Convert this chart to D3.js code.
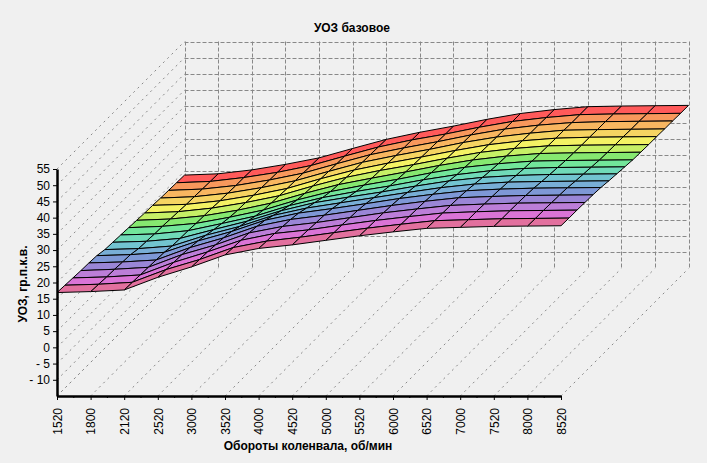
<!DOCTYPE html>
<html><head><meta charset="utf-8">
<script src="https://cdn.jsdelivr.net/npm/d3@7"></script>
<style>
body{margin:0;background:#f0f0f0;}
svg{display:block;font-family:"Liberation Sans",Arial,sans-serif;}
</style>
</head><body>
<svg id="chart" width="707" height="463"></svg>
<script>
// categories (rpm) and value ticks
const rpm = [1520,1800,2120,2520,3000,3520,4000,4520,5000,5520,6000,6520,7000,7520,8000,8520];
const yTicks = [55,50,45,40,35,30,25,20,15,10,5,0,-5,-10];
// surface values, one array per depth row (front row first)
const r00 = [16.9,17.2,17.7,21.6,24.8,28.5,30.5,31.6,33.0,34.4,35.6,36.7,37.0,37.3,37.4,37.5];
const r01 = [16.7,17.0,17.6,21.5,24.6,28.3,30.3,31.5,32.9,34.3,35.5,36.6,36.9,37.2,37.3,37.4];
const r02 = [16.5,16.8,17.4,21.3,24.5,28.1,30.2,31.3,32.8,34.2,35.4,36.5,36.9,37.2,37.3,37.4];
const r03 = [16.3,16.7,17.3,21.2,24.2,27.9,29.9,31.1,32.6,34.1,35.3,36.4,36.8,37.1,37.2,37.3];
const r04 = [16.2,16.5,17.1,20.9,23.9,27.5,29.6,30.9,32.4,33.9,35.2,36.3,36.7,37.0,37.1,37.2];
const r05 = [16.0,16.3,17.0,20.5,23.4,26.9,29.1,30.5,32.0,33.6,34.9,36.0,36.5,36.8,36.9,37.0];
const r06 = [15.4,15.7,16.5,19.8,22.5,25.9,28.2,29.8,31.4,33.0,34.5,35.6,36.2,36.4,36.5,36.6];
const r07 = [15.2,15.5,16.4,19.1,21.7,24.9,27.4,29.1,30.7,32.5,34.1,35.2,35.8,36.1,36.2,36.3];
const r08 = [15.0,15.3,16.3,18.5,20.8,24.0,26.5,28.4,30.1,32.0,33.6,34.8,35.5,35.8,35.9,36.0];
const r09 = [14.8,15.2,16.1,18.0,20.2,23.3,25.9,27.9,29.7,31.7,33.4,34.5,35.3,35.5,35.6,35.7];
const r10 = [14.6,15.0,16.0,17.7,19.9,22.9,25.6,27.6,29.5,31.5,33.2,34.4,35.2,35.4,35.5,35.6];
const r11 = [14.4,14.8,15.9,17.6,19.7,22.7,25.4,27.5,29.3,31.3,33.1,34.3,35.1,35.3,35.4,35.5];
const r12 = [14.3,14.6,15.7,17.4,19.5,22.5,25.2,27.3,29.2,31.2,33.0,34.2,35.0,35.3,35.4,35.5];
const r13 = [14.1,14.5,15.6,17.3,19.4,22.3,25.1,27.2,29.1,31.2,32.9,34.1,35.0,35.2,35.3,35.4];
const r14 = [14.0,14.4,15.5,17.2,19.3,22.2,25.0,27.1,29.0,31.1,32.9,34.1,34.9,35.2,35.3,35.4];
const r15 = [13.9,14.3,15.5,17.1,19.2,22.1,24.9,27.1,28.9,31.0,32.8,34.0,34.9,35.1,35.2,35.3];
const r16 = [13.8,14.2,15.4,17.1,19.1,22.0,24.8,27.0,28.9,31.0,32.8,34.0,34.9,35.1,35.2,35.3];
const bandColors = ["#E2709E","#DA74D6","#BC7ED8","#9A86D6","#7E98D6","#78AED6","#72C4D0","#70DAB8",
                    "#72E69A","#86E870","#C6F066","#F4F264","#F6D462","#F8B660","#F8985C","#FF5A5A"];

const rows = [r00,r01,r02,r03,r04,r05,r06,r07,r08,r09,r10,r11,r12,r13,r14,r15,r16];
const depthIdx = d3.range(rows.length);

const svg = d3.select("#chart");
const x = d3.scalePoint().domain(rpm).range([57, 561]);
const y = d3.scaleLinear().domain([-15, 55]).range([396, 169]);
const z = d3.scaleLinear().domain([0, depthIdx.length - 1]).range([0, 127.5]);
const D = z.range()[1];
const P = (i, j, v) => [x(rpm[i]) + z(j), y(v) - z(j)];

const gridCol = "#888";
const walls = svg.append("g").attr("fill","none").attr("stroke",gridCol).attr("stroke-width",1);
// back wall
walls.selectAll("line.bh").data(yTicks).join("line")
  .attr("x1", x(rpm[0]) + D).attr("x2", x(rpm[rpm.length-1]) + D)
  .attr("y1", d => Math.round(y(d) - D) + 0.5).attr("y2", d => Math.round(y(d) - D) + 0.5)
  .attr("stroke-dasharray","4,2");
walls.selectAll("line.bv").data(rpm).join("line")
  .attr("x1", d => Math.round(x(d) + D) + 0.5).attr("x2", d => Math.round(x(d) + D) + 0.5)
  .attr("y1", y(55) - D).attr("y2", y(-15) - D)
  .attr("stroke-dasharray","4,2");
// left wall diagonals
walls.selectAll("line.ld").data(yTicks.concat([-15])).join("line")
  .attr("x1", x(rpm[0])).attr("y1", d => y(d))
  .attr("x2", x(rpm[0]) + D).attr("y2", d => y(d) - D)
  .attr("stroke-dasharray","2,4");
// floor diagonals
walls.selectAll("line.fd").data(rpm).join("line")
  .attr("x1", d => x(d)).attr("y1", y(-15))
  .attr("x2", d => x(d) + D).attr("y2", y(-15) - D)
  .attr("stroke-dasharray","2,4");

// surface cells, back to front
const cells = [];
for (let j = rows.length - 2; j >= 0; j--) {
  for (let i = rpm.length - 2; i >= 0; i--) {
    cells.push({i, j, pts: [P(i,j,rows[j][i]), P(i+1,j,rows[j][i+1]), P(i+1,j+1,rows[j+1][i+1]), P(i,j+1,rows[j+1][i])]});
  }
}
svg.append("g").selectAll("path").data(cells).join("path")
  .attr("d", c => "M" + c.pts.map(p => p.join(",")).join("L") + "Z")
  .attr("fill", c => bandColors[c.j])
  .attr("stroke", "#000").attr("stroke-width", 1).attr("stroke-linejoin","round");

// left axis
const ya = svg.append("g").attr("transform", `translate(${x(rpm[0])},0)`)
  .call(d3.axisLeft(y).tickValues(yTicks).tickSize(4).tickSizeOuter(0).tickPadding(3)
    .tickFormat(d => d < 0 ? "- " + (-d) : d));
ya.select(".domain").attr("stroke-width", 2.5);
ya.selectAll("text").attr("font-size", 12).attr("fill","#000").attr("font-family","Liberation Sans, Arial");
ya.selectAll("line").attr("stroke","#000");

// bottom axis
const xa = svg.append("g").attr("transform", `translate(0,${y(-15)})`)
  .call(d3.axisBottom(x).tickSize(4).tickSizeOuter(0).tickPadding(4));
xa.select(".domain").attr("stroke-width", 2.5);
xa.selectAll("text").attr("font-size", 12).attr("fill","#000").attr("font-family","Liberation Sans, Arial")
  .attr("transform","rotate(-90)").attr("text-anchor","end").attr("dx","-0.5em").attr("dy","-0.3em")
  .attr("y", 0).attr("x", -6);
xa.selectAll("text").attr("dy","0.35em");
// minor ticks
const mids = rpm.slice(0,-1).map((d,i) => (x(d) + x(rpm[i+1])) / 2);
xa.selectAll("line.minor").data(mids).join("line").attr("class","minor")
  .attr("x1", d => d).attr("x2", d => d).attr("y1", 0).attr("y2", 2).attr("stroke","#000");

// titles
svg.append("text").attr("x", 352).attr("y", 32).attr("text-anchor","middle")
  .attr("font-size", 12).attr("font-weight","bold").text("УОЗ базовое");
svg.append("text").attr("transform","translate(27,284) rotate(-90)").attr("text-anchor","middle")
  .attr("font-size", 12).attr("font-weight","bold").text("УОЗ, гр.п.к.в.");
svg.append("text").attr("x", 308).attr("y", 450).attr("text-anchor","middle")
  .attr("font-size", 12).attr("font-weight","bold").text("Обороты коленвала, об/мин");
</script>
</body></html>
